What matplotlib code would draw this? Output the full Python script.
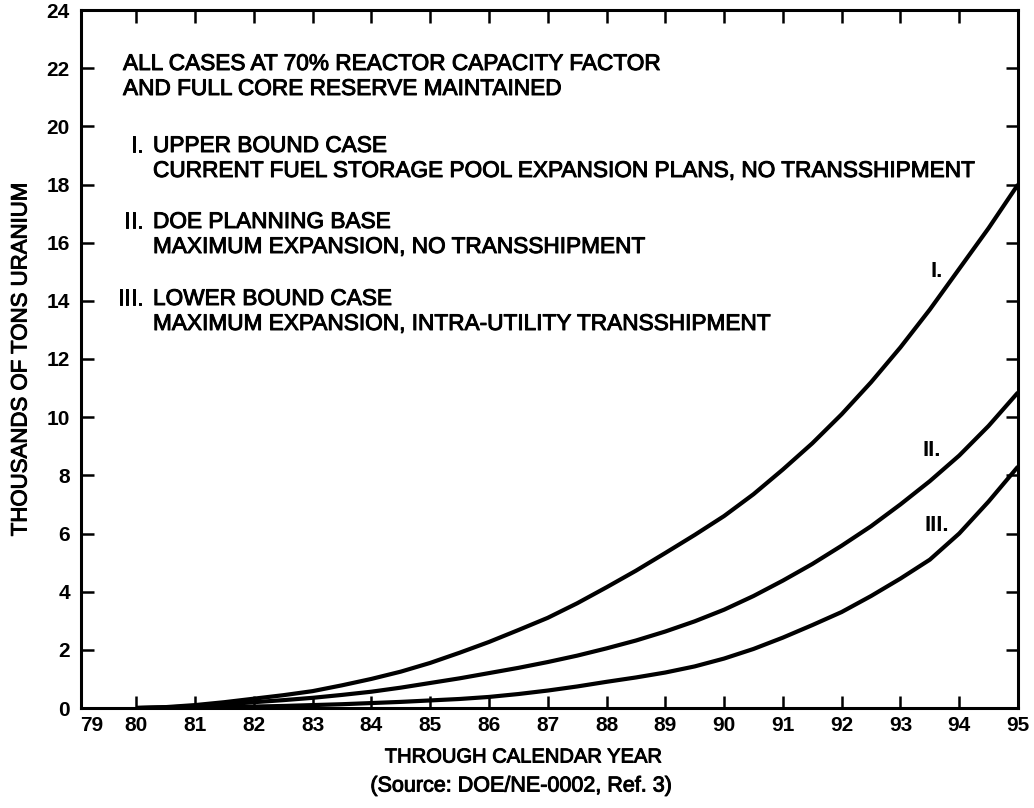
import matplotlib
matplotlib.use("Agg")
import matplotlib.pyplot as plt
import matplotlib.patheffects as pe
from matplotlib.transforms import blended_transform_factory

# ---- data (every half year) ----
years = [80, 80.5, 81, 81.5, 82, 82.5, 83, 83.5, 84, 84.5, 85, 85.5, 86, 86.5, 87, 87.5,
         88, 88.5, 89, 89.5, 90, 90.5, 91, 91.5, 92, 92.5, 93, 93.5, 94, 94.5, 95]
case_I = [0.0, 0.03, 0.1, 0.2, 0.32, 0.44, 0.58, 0.78, 1.0, 1.25, 1.55, 1.9, 2.27, 2.68, 3.1, 3.6,
          4.15, 4.72, 5.33, 5.95, 6.6, 7.35, 8.2, 9.1, 10.1, 11.2, 12.4, 13.7, 15.1, 16.5, 18.0]
case_II = [0.0, 0.02, 0.06, 0.12, 0.2, 0.27, 0.35, 0.45, 0.56, 0.7, 0.86, 1.02, 1.2, 1.38, 1.58, 1.8,
           2.05, 2.32, 2.63, 2.98, 3.38, 3.85, 4.38, 4.95, 5.58, 6.25, 7.0, 7.8, 8.68, 9.7, 10.85]
case_III = [0.0, 0.01, 0.02, 0.03, 0.05, 0.07, 0.1, 0.13, 0.17, 0.21, 0.26, 0.31, 0.38, 0.48, 0.6, 0.74,
            0.9, 1.05, 1.22, 1.43, 1.7, 2.03, 2.42, 2.85, 3.3, 3.85, 4.45, 5.1, 6.0, 7.1, 8.3]

x_ticks = list(range(80, 96))
x_tick_labels = [str(t) for t in x_ticks]
y_ticks = list(range(0, 25, 2))

header = ["ALL CASES AT 70% REACTOR CAPACITY FACTOR", "AND FULL CORE RESERVE MAINTAINED"]
case_nums = ["I.", "II.", "III."]
case_titles = ["UPPER BOUND CASE", "DOE PLANNING BASE", "LOWER BOUND CASE"]
case_details = ["CURRENT FUEL STORAGE POOL EXPANSION PLANS, NO TRANSSHIPMENT",
                "MAXIMUM EXPANSION, NO TRANSSHIPMENT",
                "MAXIMUM EXPANSION, INTRA-UTILITY TRANSSHIPMENT"]

plt.rcParams['font.family'] = ['Liberation Sans', 'DejaVu Sans']

W, H = 1034, 808
fig = plt.figure(figsize=(W / 100, H / 100), dpi=100)
ax = fig.add_axes([81 / W, 1 - 708 / H, (1018 - 81) / W, (708 - 10) / H])

lw = 3.0
for ys in (case_I, case_II, case_III):
    ax.plot(years, ys, color='black', lw=lw, solid_capstyle='butt', solid_joinstyle='round')

ax.set_xlim(79.06, 95)
ax.set_ylim(0, 24)
ax.set_xticks(x_ticks)
ax.set_xticklabels(x_tick_labels)
ax.set_yticks(y_ticks)
for s in ax.spines.values():
    s.set_linewidth(2.2)
ax.tick_params(axis='both', direction='in', length=9, width=1.8,
               top=True, right=True, labelsize=15)
ax.tick_params(axis='x', pad=6)
ax.tick_params(axis='y', pad=8)
for lab in ax.get_xticklabels() + ax.get_yticklabels():
    lab.set_fontweight('bold')

# the "79" label sits at the left end of the axis
trans = blended_transform_factory(ax.transData, ax.transAxes)
ax.text(79.25, -0.012, "79", transform=trans, ha='center', va='top',
        fontsize=15, fontweight='bold')

heavy = [pe.withStroke(linewidth=0.7, foreground='black')]

def fig_text(x_px, y_px, s, **kw):
    return fig.text(x_px / W, 1 - y_px / H, s, path_effects=heavy, **kw)

fs = 16.3
fig_text(123, 70, header[0], fontsize=fs, va='baseline')
fig_text(123, 95, header[1], fontsize=fs, va='baseline')
rows = [(152, 177), (228, 253), (305, 330)]
for num, t1, t2, (b1, b2) in zip(case_nums, case_titles, case_details, rows):
    fig_text(143, b1, num, fontsize=fs, va='baseline', ha='right')
    fig_text(153, b1, t1, fontsize=fs, va='baseline')
    fig_text(153, b2, t2, fontsize=fs, va='baseline')

# curve labels
label_pos = [(93.62, 15.0), (93.54, 8.84), (93.62, 6.29)]
for num, (lx, ly) in zip(case_nums, label_pos):
    ax.text(lx, ly, num, fontsize=16, fontweight='bold', ha='center', va='center')

fig_text(523, 757, "THROUGH CALENDAR YEAR", fontsize=14.5, ha='center', va='center')
fig_text(521, 786, "(Source: DOE/NE-0002, Ref. 3)", fontsize=15.5, ha='center', va='center')
fig_text(21, 359, "THOUSANDS OF TONS URANIUM", fontsize=16, ha='center', va='center',
         rotation=90)

fig.savefig("out.png", dpi=100)
